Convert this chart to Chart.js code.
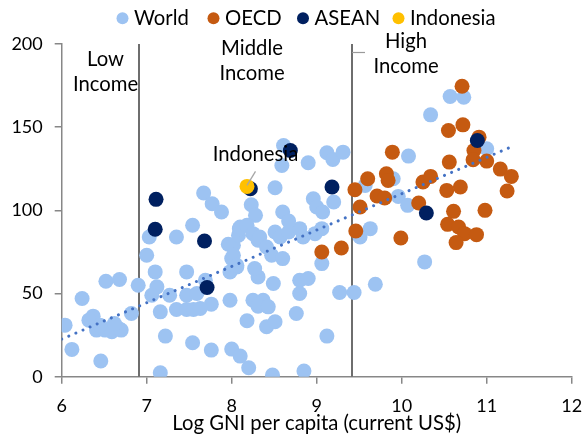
<!DOCTYPE html>
<html>
<head>
<meta charset="utf-8">
<script src="https://cdn.jsdelivr.net/npm/chart.js@4"></script>
<style>
  html, body { margin: 0; padding: 0; background: #ffffff; }
  #wrap { width: 582px; height: 436px; position: relative; }
</style>
</head>
<body>
<div id="wrap"><canvas id="chart" width="582" height="436"></canvas></div>
<script>
// Series names and colours
const seriesNames = ['World', 'OECD', 'ASEAN', 'Indonesia'];
const seriesColors = ['#9DC3F2', '#C55A11', '#002060', '#FFC000'];

// World: log GNI per capita (x) and indicator value (y)
const worldX = [
  6.04, 6.12, 6.24, 6.37, 6.32, 6.41, 6.51, 6.59, 6.67, 6.70, 6.45, 6.62, 6.52, 6.68, 6.46, 6.82, 6.90,
  7.00, 7.03, 7.10, 7.12, 7.06, 7.16, 7.22, 7.16, 7.27, 7.35, 7.35, 7.47, 7.47, 7.47, 7.55, 7.54, 7.59,
  7.69, 7.76, 7.76, 7.98, 8.00, 8.10, 7.96, 8.02, 8.00, 7.98, 8.06, 8.08, 7.67, 7.77, 7.88, 7.54, 8.09, 7.63,
  8.23, 8.28, 8.51, 8.61, 8.59, 8.90, 8.10, 8.18, 8.25, 8.31, 8.51, 8.57, 8.67, 8.80, 8.84, 8.60, 8.67,
  8.96, 9.00, 9.07, 8.80, 8.90, 8.80, 8.49, 8.31, 8.27, 8.25, 8.37, 8.31, 8.43, 8.18, 8.41, 8.51, 8.76,
  8.20, 8.48, 8.85, 8.02, 8.06, 8.33, 8.41, 8.47, 8.60, 8.98, 9.06, 9.06,
  9.12, 9.19, 9.31, 9.20, 9.12, 9.27, 9.44, 9.69, 9.63, 9.51, 9.57, 9.90, 9.96, 10.07, 10.08, 10.27,
  10.57, 10.73, 10.34, 11.00
];
const worldY = [
  31, 16.4, 47, 36.4, 34, 28, 28, 27, 29, 28, 31, 32, 57.4, 58.4, 9.4, 38, 55,
  73, 84, 63, 54, 49, 39, 24.4, 2.4, 49, 84, 40.4, 63, 49, 40.4, 40.4, 20.4, 50,
  58, 16, 43.6, 46, 16.6, 12.4, 79.6, 79, 71, 63, 66, 85, 110.4, 104, 99, 91, 89, 41,
  103.4, 97, 113.6, 139, 127, 128.6, 90, 91, 86, 82, 87, 84, 87, 89, 84, 99, 93.6,
  107, 102, 99, 58, 59, 50, 56, 60, 65, 46, 46, 42.4, 42, 33.6, 30, 33, 38,
  5.4, 1, 3.4, 73, 67, 84, 78, 73, 71, 86, 68, 89,
  134.6, 130.6, 135, 105, 24.4, 50.6, 50.6, 55.6, 89, 84, 115, 119, 108.4, 103, 132.6, 69,
  168.4, 168, 157.4, 137
];

// OECD members
const oecdX = [
  10.71, 10.55, 10.72, 10.91, 10.85, 10.84, 11.00, 11.16, 11.29, 11.24, 10.56, 9.89, 9.82, 9.84, 9.60,
  9.45, 9.71, 9.80, 10.20, 10.25, 10.34, 9.51, 10.53, 10.69, 10.61, 10.98, 10.54, 10.67, 10.74, 10.88,
  10.64, 9.99, 9.46, 9.06, 9.29
];
const oecdY = [
  174.6, 148, 151.4, 144, 136, 130.4, 129.6, 124.8, 120.4, 111.6, 129, 135, 122, 118, 119,
  112.4, 108.6, 107.4, 104.4, 117, 120.4, 102, 112, 114, 99.4, 100, 91.6, 90, 86, 85.4,
  80.6, 83.4, 87.6, 75, 77.4
];

// ASEAN members
const aseanX = [7.11, 7.10, 7.68, 7.71, 8.22, 8.69, 9.18, 10.29, 10.89];
const aseanY = [106.6, 88.6, 81.6, 53.6, 113, 136, 114, 98.4, 142];

// Indonesia
const indoX = [8.18];
const indoY = [114.4];

// Linear trend (end points)
const trendX = [6.0, 11.3];
const trendY = [22.6, 138.4];

// Axis ticks
const xTicks = [6, 7, 8, 9, 10, 11, 12];
const yTicks = [0, 50, 100, 150, 200];

// Income group boundaries on the log GNI axis and their labels
const incomeBounds = [6.91, 9.41];
const incomeLabels = [
  { x: 105.5, lines: ['Low', 'Income'], top: 59 },
  { x: 252, lines: ['Middle', 'Income'], top: 48 },
  { x: 406, lines: ['High', 'Income'], top: 41.5 }
];

// Legend marker centres along the top row
const legendMarkerX = [122.5, 213.5, 303, 398.5];

const FONT = 'Lato, "Open Sans", sans-serif';
const TICK_SIZE = 18;
const TEXT_SIZE = 20.3;
const TEXT_COLOR = '#000000';
const AXIS_COLOR = '#878787';

function pts(xs, ys) {
  return xs.map((x, i) => ({ x: x, y: ys[i] }));
}

const pointDataset = (idx, xs, ys, order) => ({
  label: seriesNames[idx],
  data: pts(xs, ys),
  backgroundColor: seriesColors[idx],
  borderColor: seriesColors[idx],
  borderWidth: 0,
  pointRadius: 7.5,
  pointHoverRadius: 7.5,
  showLine: false,
  order: order
});

// Vertical income boundary lines, drawn beneath the points
const incomeLinesPlugin = {
  id: 'incomeLines',
  beforeDatasetsDraw(chart) {
    const { ctx, chartArea, scales } = chart;
    ctx.save();
    ctx.strokeStyle = '#6E6E6E';
    ctx.lineWidth = 2;
    incomeBounds.forEach((b) => {
      const px = Math.round(scales.x.getPixelForValue(b));
      ctx.beginPath();
      ctx.moveTo(px, chartArea.top);
      ctx.lineTo(px, chartArea.bottom);
      ctx.stroke();
    });
    // short leader next to the high-income label
    const hx = Math.round(scales.x.getPixelForValue(incomeBounds[1]));
    ctx.strokeStyle = '#9A9A9A';
    ctx.lineWidth = 1.2;
    ctx.beginPath();
    ctx.moveTo(hx, chartArea.top + 8.5);
    ctx.lineTo(hx + 13, chartArea.top + 8.5);
    ctx.stroke();
    ctx.restore();
  }
};

// Text labels, Indonesia callout and the legend row
const labelsPlugin = {
  id: 'chartLabels',
  afterDatasetsDraw(chart) {
    const { ctx } = chart;
    ctx.save();
    ctx.font = TEXT_SIZE + 'px ' + FONT;
    ctx.fillStyle = TEXT_COLOR;
    ctx.textAlign = 'center';
    ctx.textBaseline = 'middle';
    incomeLabels.forEach((lab) => {
      lab.lines.forEach((t, i) => ctx.fillText(t, lab.x, lab.top + i * 25));
    });

    // Indonesia callout
    const p = chart.getDatasetMeta(1).data[0];
    ctx.strokeStyle = '#A6A6A6';
    ctx.lineWidth = 1.3;
    ctx.beginPath();
    ctx.moveTo(p.x, p.y - 1);
    ctx.lineTo(p.x + 8.5, p.y - 15);
    ctx.stroke();
    ctx.fillText('Indonesia', p.x + 8.5, p.y - 31.5);

    // Legend
    const ly = 18.3;
    ctx.textAlign = 'left';
    seriesNames.forEach((name, i) => {
      const cx = legendMarkerX[i];
      ctx.fillStyle = seriesColors[i];
      ctx.beginPath();
      ctx.arc(cx, ly, 6, 0, Math.PI * 2);
      ctx.fill();
      ctx.fillStyle = TEXT_COLOR;
      ctx.fillText(name, cx + 11.5, ly);
    });
    ctx.restore();
  }
};

function build() {
  Chart.defaults.font.family = FONT;
  Chart.defaults.font.size = TICK_SIZE;
  Chart.defaults.color = TEXT_COLOR;

  new Chart(document.getElementById('chart'), {
    type: 'scatter',
    data: {
      datasets: [
        {
          type: 'line',
          label: 'Trend',
          data: pts(trendX, trendY),
          borderColor: '#4472C4',
          borderWidth: 3,
          borderCapStyle: 'round',
          borderDash: [0.01, 7.7],
          pointRadius: 0,
          fill: false,
          order: 0
        },
        pointDataset(3, indoX, indoY, 1),
        pointDataset(2, aseanX, aseanY, 2),
        pointDataset(1, oecdX, oecdY, 3),
        pointDataset(0, worldX, worldY, 4)
      ]
    },
    options: {
      responsive: false,
      animation: false,
      devicePixelRatio: 1,
      layout: { padding: { top: 44, right: 10.3, left: 0, bottom: 0 } },
      plugins: {
        legend: { display: false },
        tooltip: { enabled: false }
      },
      scales: {
        x: {
          type: 'linear',
          min: 6,
          max: 12,
          afterBuildTicks(scale) { scale.ticks = xTicks.map((v) => ({ value: v })); },
          afterFit(scale) {
            scale.height = 59.3;
            scale.paddingLeft = 0;
            scale.paddingRight = 0;
          },
          ticks: { padding: 12, color: TEXT_COLOR, font: { size: TICK_SIZE } },
          grid: { drawOnChartArea: false, drawTicks: true, tickLength: 7, color: AXIS_COLOR, lineWidth: 1.5 },
          border: { display: true, color: AXIS_COLOR, width: 1.5 },
          title: {
            display: true,
            text: 'Log GNI per capita (current US$)',
            color: TEXT_COLOR,
            font: { size: TEXT_SIZE },
            padding: { top: 0, bottom: 0 }
          }
        },
        y: {
          type: 'linear',
          min: 0,
          max: 200,
          afterBuildTicks(scale) { scale.ticks = yTicks.map((v) => ({ value: v })); },
          afterFit(scale) {
            scale.width = 61.7;
            scale.paddingTop = 0;
            scale.paddingBottom = 0;
          },
          ticks: { padding: 12, color: TEXT_COLOR, font: { size: TICK_SIZE } },
          grid: { drawOnChartArea: false, drawTicks: true, tickLength: 7, color: AXIS_COLOR, lineWidth: 1.5 },
          border: { display: true, color: AXIS_COLOR, width: 1.5 }
        }
      }
    },
    plugins: [incomeLinesPlugin, labelsPlugin]
  });
}

if (document.fonts && document.fonts.load) {
  document.fonts.load(TEXT_SIZE + 'px Lato').then(build, build);
} else {
  build();
}
</script>
</body>
</html>
